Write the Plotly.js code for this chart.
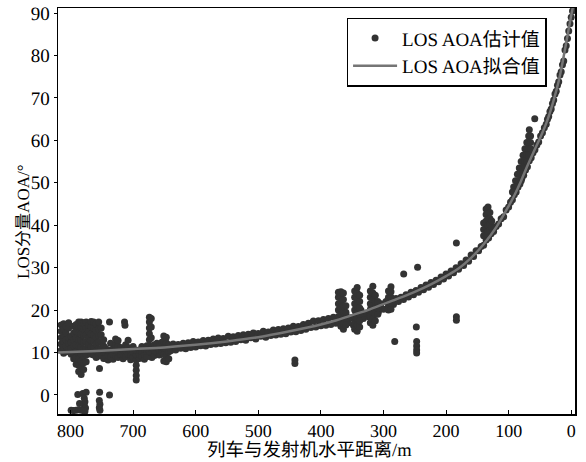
<!DOCTYPE html>
<html><head><meta charset="utf-8">
<script src="https://cdn.plot.ly/plotly-3.0.1.min.js"></script>
<style>html,body{margin:0;padding:0;background:#fff}#chart{width:586px;height:462px}
svg text{-webkit-font-smoothing:antialiased;text-rendering:geometricPrecision}</style>
</head><body><div id="chart"></div>
<script>
// ---- fitted curve (LOS AOA 拟合值) ----
const fitDist = [-5, 0, 5, 10, 15, 20, 30, 40, 50, 60, 70, 80, 90, 100, 120, 140, 160, 180, 200, 225, 250, 275, 300, 325, 350, 375, 400, 450, 500, 550, 600, 650, 700, 750, 800, 820];
const fitAoa  = [93, 89.5, 85.5, 81.5, 77.5, 74, 68.5, 64, 60.5, 57.3, 54, 50.5, 47.3, 44.5, 39.5, 35.5, 32.3, 29.8, 28, 26, 24.3, 22.8, 21.4, 20, 18.8, 17.6, 16.6, 15, 13.6, 12.6, 11.8, 11.2, 10.8, 10.4, 10.1, 10];

// ---- estimated points (LOS AOA 估计值) ----
// far-left block: columns of distance with lists of AOA values
const blockDist = [815,811,807,803,799,795,791,787,783,779,775,771,767,763,759,755,751,747];
const blockAoa = [
 [10.5,12,13.5,15,16.5],
 [9.8,11.2,12.6,14,15.5,16.8],
 [10.2,11.6,13,14.6,16.2],
 [10.8,12.2,13.4,15.8,17],
 [9.6,11,12.4,13.8],
 [8.5,10,11.5,13,14.6,16.2],
 [7.2,8.8,10.3,11.8,13.4,15,16.6],
 [5.5,7,8.5,10,11.5,13,14.6,16.2,17.2],
 [4.8,6.4,8,9.6,11.2,12.8,14.4,16,17.2],
 [6,7.6,9.2,10.8,12.4,14,15.6,17],
 [7.8,9.4,11,12.6,14.2,15.8,17.2],
 [10.5,12,13.5,15,16.5],
 [9.6,11.2,12.8,14.4,16,17.3],
 [9.4,11,12.6,14.2,15.8,17.2],
 [8.8,10.4,12,13.6,15.2,16.8],
 [9.2,10.8,12.4,14,15.6,17.2],
 [9.5,11,12.6,14.2,15.8],
 [8.6,10,11.5,13]
];
// 744 m .. 643 m band with spikes
const leftDist = [744,740,736,732,728,724,720,716,712,708,704,700,695,690,686,682,678,674,671,670,666,662,658,654,651,647,643];
const leftAoa = [
 [8.6,10,11],
 [8.2,9.4,10.5],
 [9,10.5,12.2],
 [8.4,9.6,10.8],
 [9.2,10.5,11.8,13.2],
 [8.8,10.2,11.5,12.8],
 [9.5,10.4,11.2],
 [8.5,9.6,10.6],
 [9,10.4,11.8],
 [9.6,11.2,12.9],
 [8.3,9.4,10.5],
 [8.9,10.2,11.4],
 [3.5,4.6,5.8,7,8.2,9.4,10.5],
 [8.6,9.6,10.6],
 [9.2,10.3,11.4],
 [8.4,9.6,10.8],
 [9,10.3,11.6],
 [10.2,11.6,13,14.4,15.8,17.2,18.3],
 [11,13.5,16,18],
 [8.8,10,11.2],
 [9.3,10.5,11.8],
 [10,11.1,12.2],
 [9.4,10.5,11.5],
 [10.2,11.3,12.4],
 [8,9.5,11,12.5,13.9],
 [7.8,9.2,10.8,12.3,13.6],
 [8.5,10.2,11.8]
];
// main band 640 .. 400 m
const midDist = [640,636,632,628,624,620,616,612,608,604,600,596,592,588,584,580,576,572,568,564,560,556,552,548,544,540,536,532,528,524,520,516,512,508,504,500,496,492,488,484,480,476,472,468,464,460,456,452,448,444,440,436,432,428,424,420,416,412,408,404,400];
const midAoa = [10.4,12.0,10.6,11.9,11.0,12.2,10.9,12.3,11.2,12.6,11.3,12.5,11.6,12.8,11.5,12.9,11.9,13.2,12.0,13.4,12.1,13.3,12.3,13.8,12.4,13.7,12.6,14.0,13.0,14.2,12.9,14.3,13.5,14.6,13.2,14.5,13.8,15.0,13.6,14.8,14.0,15.3,14.1,15.4,14.3,15.6,14.4,15.8,14.8,16.2,14.9,16.1,15.2,16.6,15.5,16.9,15.9,17.4,16.0,17.5,16.3];
// band 396 .. 280 m
const bandDist = [396,392,388,384,380,376,372,368,364,360,356,352,348,344,340,336,332,328,324,320,316,312,308,304,300,296,292,288,284,280];
const bandAoa = [17.8,16.4,18.0,16.6,18.3,16.9,17.2,18.6,16.5,19.0,17.0,18.2,16.4,19.5,17.5,20.0,18.0,19.3,18.4,20.5,18.8,21.0,19.6,21.5,20.2,22.0,20.8,22.4,21.3,22.7];
// band 276 .. 152 m
const rightDist = [276,272,268,264,260,256,252,248,244,240,236,232,228,224,220,216,212,208,204,200,196,192,188,184,180,176,172,168,164,160,156,152];
const rightAoa = [22.0,23.0,22.5,23.6,23.1,24.2,23.6,24.6,24.2,25.3,24.8,25.9,25.4,26.5,26.0,27.0,26.7,27.8,27.3,28.5,28.0,29.2,28.8,30.0,29.6,30.9,30.5,31.8,31.5,33.0,32.6,34.0];
// steep band 148 .. -2 m
const steepDist = [148,144,140,136,132,128,124,120,116,112,108,104,100,97,94,91,88,85,82,79,76,73,70,67,64,61,58,55,52,49,46,43,40,38,36,34,32,30,28,26,24,22,20,18,16,14,12,10,8,6,4,2,0,-2];
const steepAoa = [34.0,35.0,35.3,36.5,37.0,38.0,38.5,39.7,40.3,41.5,42.0,43.6,44.3,45.4,46.0,47.2,47.8,49.0,49.7,51.0,51.8,53.0,53.8,55.2,55.9,57.1,57.8,58.9,59.6,61.0,61.8,63.0,63.8,65.0,65.6,66.8,67.4,68.7,69.5,70.9,71.6,73.0,73.8,75.4,76.2,77.8,78.7,81.3,82.3,84.0,85.8,87.5,89.0,90.5];
// vertical clusters
const clusterDist = [372,368,364,360,346,342,338,321,317,313,309,292,288,140,136,133,130,127];
const clusterAoa = [
 [17,18.5,20,21.5,23,24.2],
 [16.2,17.6,19,20.5,22,23.5,24.3],
 [15.5,16.8,18.2,19.6,21,22.5,24],
 [16.5,18,19.5,21],
 [15.5,17,18.5,20,21.5,23,24.5],
 [15,16.5,18,19.5,21,22.5,24,25.3],
 [16,17.5,19,20.5,22,23.5],
 [17,18.5,20,21.5,23,24.5],
 [16.4,18,19.5,21,22.5,24,25.6],
 [17.5,19,20.5,22,23.5],
 [19,20.5,22],
 [20,21.5,23,24.5],
 [20.2,21.6,23,24.3,25.5],
 [37.5,39,40.5],
 [38,39.5,41,42.5,43.8],
 [38.5,40,41.5,43,44.3],
 [38.8,40.2,41.6,43],
 [39.5,41]
];
// large cluster near 60-95 m: rows of AOA with distances
const bigAoa = [62.5,61,59.5,58,56.5,55,53.5,52,50.5,49,47.8];
const bigDist = [[67],[68,65],[71,68,65],[74,71,68,65],[77,74,71,68],[80,77,74,71],[83,80,77,74],[86,83,80,77],[89,86,83,80],[92,89,86],[94,91]];
// isolated points
const outDist = [737.7,713.7,713,753.7,441.5,441.5,282,267.7,247.5,247,247,247,247,245.5,183.5,183.5,183.5,58.3,
  788.4,780.4,775,753.5,737.7,778,777,778,776,777,754,753,754,753,799,795,791,787,783,779,785.6];
const outAoa = [17.2,17.2,16.4,6.2,7.4,8.2,12.6,28.5,16,12.6,11.5,10.6,9.9,30.1,18.4,17.6,35.8,65.1,
  0.1,0.35,0.6,0.6,0,-0.8,-1.6,-2.4,-3.1,-3.9,-1.3,-2.2,-3.0,-3.6,-3.6,-3.7,-3.6,-3.5,-3.6,-3.7,-2];

// axis text
const xTitle = '列车与发射机水平距离/m';
const yTitle = 'LOS分量AOA/°';
const xTicks = [800,700,600,500,400,300,200,100,0];
const yTicks = [0,10,20,30,40,50,60,70,80,90];

// ---- assemble ----
const estX = [], estY = [];
function addCols(ds, vs){ ds.forEach((d,i)=>vs[i].forEach(v=>{estX.push(d);estY.push(v);})); }
function addPairs(ds, vs){ ds.forEach((d,i)=>{estX.push(d);estY.push(vs[i]);}); }
addCols(blockDist, blockAoa);
addCols(leftDist, leftAoa);
addPairs(midDist, midAoa);
addPairs(bandDist, bandAoa);
addPairs(rightDist, rightAoa);
addPairs(steepDist, steepAoa);
addCols(clusterDist, clusterAoa);
bigAoa.forEach((v,i)=>bigDist[i].forEach(d=>{estX.push(d);estY.push(v);}));
addPairs(outDist, outAoa);

const FONT = "'Liberation Serif', 'Noto Sans CJK SC', serif";

const traces = [
 {x: estX, y: estY, type:'scatter', mode:'markers', name:'LOS AOA估计值',
  marker:{color:'#333333', size:7, line:{width:0}}},
 {x: fitDist, y: fitAoa, type:'scatter', mode:'lines', name:'LOS AOA拟合值',
  line:{color:'#757575', width:2.5, shape:'spline'}}
];

const layout = {
 width:586, height:462,
 margin:{l:58, r:10.5, t:8, b:48, pad:0},
 paper_bgcolor:'#fff', plot_bgcolor:'#fff',
 font:{family:FONT, color:'#000', size:19},
 showlegend:true,
 legend:{x:0.945, y:0.976, xanchor:'right', yanchor:'top', bgcolor:'#fff',
   bordercolor:'#000', borderwidth:1.5, font:{family:FONT, size:19, color:'#000'},
   itemwidth:44, tracegroupgap:0},
 xaxis:{range:[820,-6], tickvals:xTicks, ticks:'inside', ticklen:4,
   tickcolor:'#000', showline:true, mirror:true, linecolor:'#000', linewidth:1.5,
   showgrid:false, zeroline:false, tickfont:{family:FONT, size:18}},
 yaxis:{range:[-4.5,91.2], tickvals:yTicks, ticks:'outside', ticklen:3,
   tickcolor:'#000', showline:true, mirror:true, linecolor:'#000', linewidth:1.5,
   showgrid:false, zeroline:false, tickfont:{family:FONT, size:19}},
 annotations:[
  {text:xTitle, xref:'paper', yref:'paper', x:0.487, y:-0.0911, xanchor:'center', yanchor:'middle',
   showarrow:false, font:{family:FONT, size:18.5, color:'#000'}},
  {text:yTitle, xref:'paper', yref:'paper', x:-0.0657, y:0.473, xanchor:'center', yanchor:'middle',
   textangle:-90, showarrow:false, font:{family:FONT, size:17, color:'#000'}}
 ]
};
Plotly.newPlot('chart', traces, layout, {displayModeBar:false, staticPlot:true});
</script></body></html>
